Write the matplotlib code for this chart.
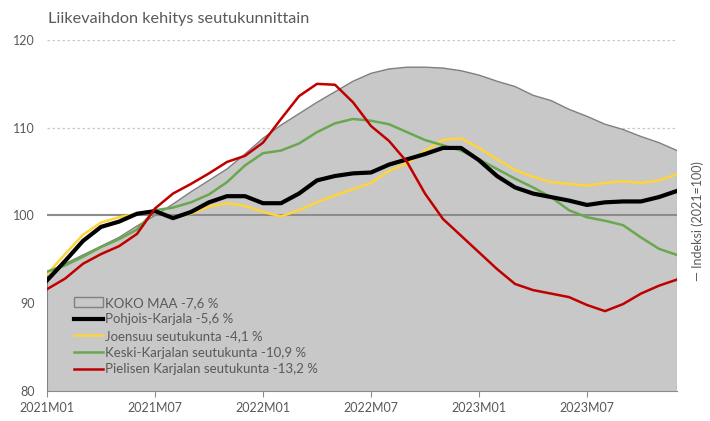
import matplotlib
matplotlib.use("Agg")
import matplotlib.pyplot as plt
import numpy as np
from matplotlib.patches import Patch
from matplotlib.lines import Line2D

plt.rcParams['font.family'] = ['Lato', 'DejaVu Sans']

# months 2021M01 .. 2023M12
months = [f"{y}M{m:02d}" for y in (2021, 2022, 2023) for m in range(1, 13)]
tick_labels = ["2021M01", "2021M07", "2022M01", "2022M07", "2023M01", "2023M07"]

koko_maa = [93.5, 94.5, 95.5, 96.5, 97.5, 98.8, 100.0, 101.3, 102.7, 104.0, 105.3, 107.0,
            108.8, 110.3, 111.6, 112.9, 114.1, 115.3, 116.2, 116.7, 116.9, 116.9, 116.8, 116.5,
            116.0, 115.3, 114.7, 113.7, 113.1, 112.1, 111.3, 110.4, 109.8, 109.0, 108.3, 107.4]
pohjois_karjala = [92.6, 94.8, 97.1, 98.7, 99.3, 100.2, 100.5, 99.7, 100.4, 101.5, 102.2, 102.2,
                   101.4, 101.4, 102.5, 104.0, 104.5, 104.8, 104.9, 105.8, 106.4, 107.0, 107.7, 107.7,
                   106.3, 104.5, 103.2, 102.5, 102.1, 101.7, 101.2, 101.5, 101.6, 101.6, 102.1, 102.8]
joensuu = [93.3, 95.6, 97.8, 99.2, 99.8, 100.2, 100.4, 99.8, 100.2, 101.0, 101.4, 101.1,
           100.4, 99.9, 100.6, 101.5, 102.3, 103.0, 103.7, 105.1, 105.9, 107.4, 108.6, 108.8,
           107.7, 106.4, 105.2, 104.4, 103.8, 103.6, 103.4, 103.7, 103.9, 103.7, 104.0, 104.7]
keski_karjala = [93.6, 94.3, 95.3, 96.4, 97.3, 98.4, 100.6, 100.9, 101.5, 102.4, 103.8, 105.7,
                 107.1, 107.4, 108.2, 109.5, 110.5, 111.0, 110.8, 110.4, 109.5, 108.6, 108.0, 107.4,
                 106.4, 105.3, 104.2, 103.2, 102.1, 100.6, 99.8, 99.4, 98.9, 97.5, 96.2, 95.5]
pielinen = [91.6, 92.8, 94.5, 95.6, 96.5, 97.9, 100.8, 102.5, 103.6, 104.8, 106.1, 106.8,
            108.3, 111.0, 113.6, 115.0, 114.9, 112.9, 110.2, 108.5, 106.1, 102.5, 99.6, 97.7,
            95.8, 93.9, 92.2, 91.5, 91.1, 90.7, 89.8, 89.1, 89.9, 91.1, 92.0, 92.7]

x = np.arange(len(months))
txt = '#595959'

fig = plt.figure(figsize=(7.1, 4.21), dpi=100)
ax = fig.add_axes([0.0662, 0.0713, 0.8873, 0.8337])

for v in (90, 110, 120):
    ax.axhline(v, color='#c8c8c8', linestyle=(0, (2, 2)), linewidth=0.9, zorder=0)

ax.fill_between(x, 80, koko_maa, facecolor='#c8c8c8', edgecolor='none', zorder=1)
ax.plot(x, koko_maa, color='#808080', linewidth=1.0, zorder=2)
ax.plot([x[0], x[0]], [80, koko_maa[0]], color='#808080', linewidth=0.8, zorder=2)
ax.plot([x[-1], x[-1]], [80, koko_maa[-1]], color='#808080', linewidth=0.8, zorder=2)
ax.axhline(100, color='#8c8c8c', linewidth=1.5, zorder=3)

ax.plot(x, pohjois_karjala, color='black', linewidth=3.0, zorder=5)
ax.plot(x, joensuu, color='#FFD43B', linewidth=1.8, zorder=4)
ax.plot(x, keski_karjala, color='#6AA84F', linewidth=1.8, zorder=4)
ax.plot(x, pielinen, color='#C00000', linewidth=1.8, zorder=6)

ax.set_xlim(0, len(months) - 1)
ax.set_ylim(80, 120)
ax.set_yticks([80, 90, 100, 110, 120])
ax.set_xticks([months.index(t) for t in tick_labels])
ax.set_xticklabels(tick_labels)
ax.tick_params(axis='y', length=0, labelsize=9, labelcolor=txt, pad=9)
ax.tick_params(axis='x', length=4, color='#8c8c8c', labelsize=9, labelcolor=txt, pad=4)
for s in ('top', 'right', 'left'):
    ax.spines[s].set_visible(False)
ax.spines['bottom'].set_color('#8c8c8c')
ax.spines['bottom'].set_zorder(3)

fig.text(0.068, 0.955, "Liikevaihdon kehitys seutukunnittain", fontsize=11.7, color=txt,
         va='center', ha='left')

handles = [
    Patch(facecolor='#c8c8c8', edgecolor='#808080', linewidth=1.0),
    Line2D([], [], color='black', linewidth=3.0),
    Line2D([], [], color='#FFD43B', linewidth=1.8),
    Line2D([], [], color='#6AA84F', linewidth=1.8),
    Line2D([], [], color='#C00000', linewidth=1.8),
]
labels = ["KOKO MAA -7,6 %", "Pohjois-Karjala -5,6 %", "Joensuu seutukunta -4,1 %",
          "Keski-Karjalan seutukunta -10,9 %", "Pielisen Karjalan seutukunta -13,2 %"]
leg = ax.legend(handles, labels, loc='lower left', bbox_to_anchor=(0.035, 0.03),
                frameon=False, fontsize=9.5, handlelength=2.2, handletextpad=0.15,
                labelspacing=0.35, borderaxespad=0)
for t in leg.get_texts():
    t.set_color(txt)
leg.set_zorder(10)

fig.text(0.983, 0.475, "\u2014 Indeksi (2021=100)", rotation=90, fontsize=9, color=txt,
         ha='center', va='center')

fig.savefig("out.png", dpi=100)
